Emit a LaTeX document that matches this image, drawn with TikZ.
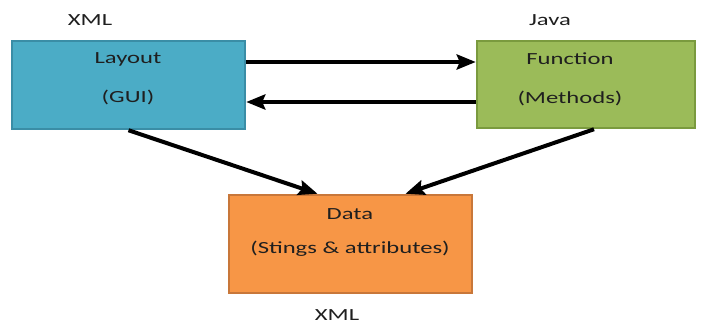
\documentclass[tikz,border=0pt]{standalone}
\usepackage{fontspec}
\setmainfont{Carlito}[FakeStretch=1.45]
\usetikzlibrary{arrows.meta}
\definecolor{bluefill}{HTML}{4BACC6}
\definecolor{blueline}{HTML}{3A8DA6}
\definecolor{greenfill}{HTML}{9BBB59}
\definecolor{greenline}{HTML}{7A9A3E}
\definecolor{orangefill}{HTML}{F79646}
\definecolor{orangeline}{HTML}{C8773A}
\definecolor{txt}{HTML}{1F1F1F}
\tikzset{
  box/.style={draw, line width=2.5pt, minimum width=#1, inner sep=0pt},
  lbl/.style={font=\fontsize{17}{20}\selectfont, text=txt, inner sep=0pt},
  arr/.style={line width=4pt, -{Stealth[length=19pt,width=15pt,inset=3pt]}},
}
\begin{document}
\begin{tikzpicture}[x=1pt,y=-1pt]
\useasboundingbox (0,0) rectangle (702,324);
\node[box=233pt, minimum height=88pt, fill=bluefill, draw=blueline] (L) at (128.5,85) {};
\node[box=218pt, minimum height=87pt, fill=greenfill, draw=greenline] (F) at (586,84.5) {};
\node[box=243pt, minimum height=98pt, fill=orangefill, draw=orangeline] (D) at (350.5,244) {};
\node[lbl] (xml1) at (90,20) {XML};
\node[lbl] (java) at (550,20) {Java};
\node[lbl] (xml2) at (337,315) {XML};
\node[lbl] (l1) at (128,59) {Layout};
\node[lbl] (l2) at (128,97) {(GUI)};
\node[lbl] (f1) at (570,59) {Function};
\node[lbl] (f2) at (570,98) {(Methods)};
\node[lbl] (d1) at (350,214) {Data};
\node[lbl] (d2) at (350,249) {(Stings \& attributes)};
\draw[arr] ([yshift=23pt]L.east) -- ([yshift=23pt]L.east -| F.west);
\draw[arr] ([yshift=-17pt]L.east -| F.west) -- ([yshift=-17pt]L.east);
\draw[arr] (L.south) -- ([xshift=-33pt]D.north);
\draw[arr] ([xshift=8pt]F.south) -- ([xshift=55pt]D.north);
\end{tikzpicture}
\end{document}
